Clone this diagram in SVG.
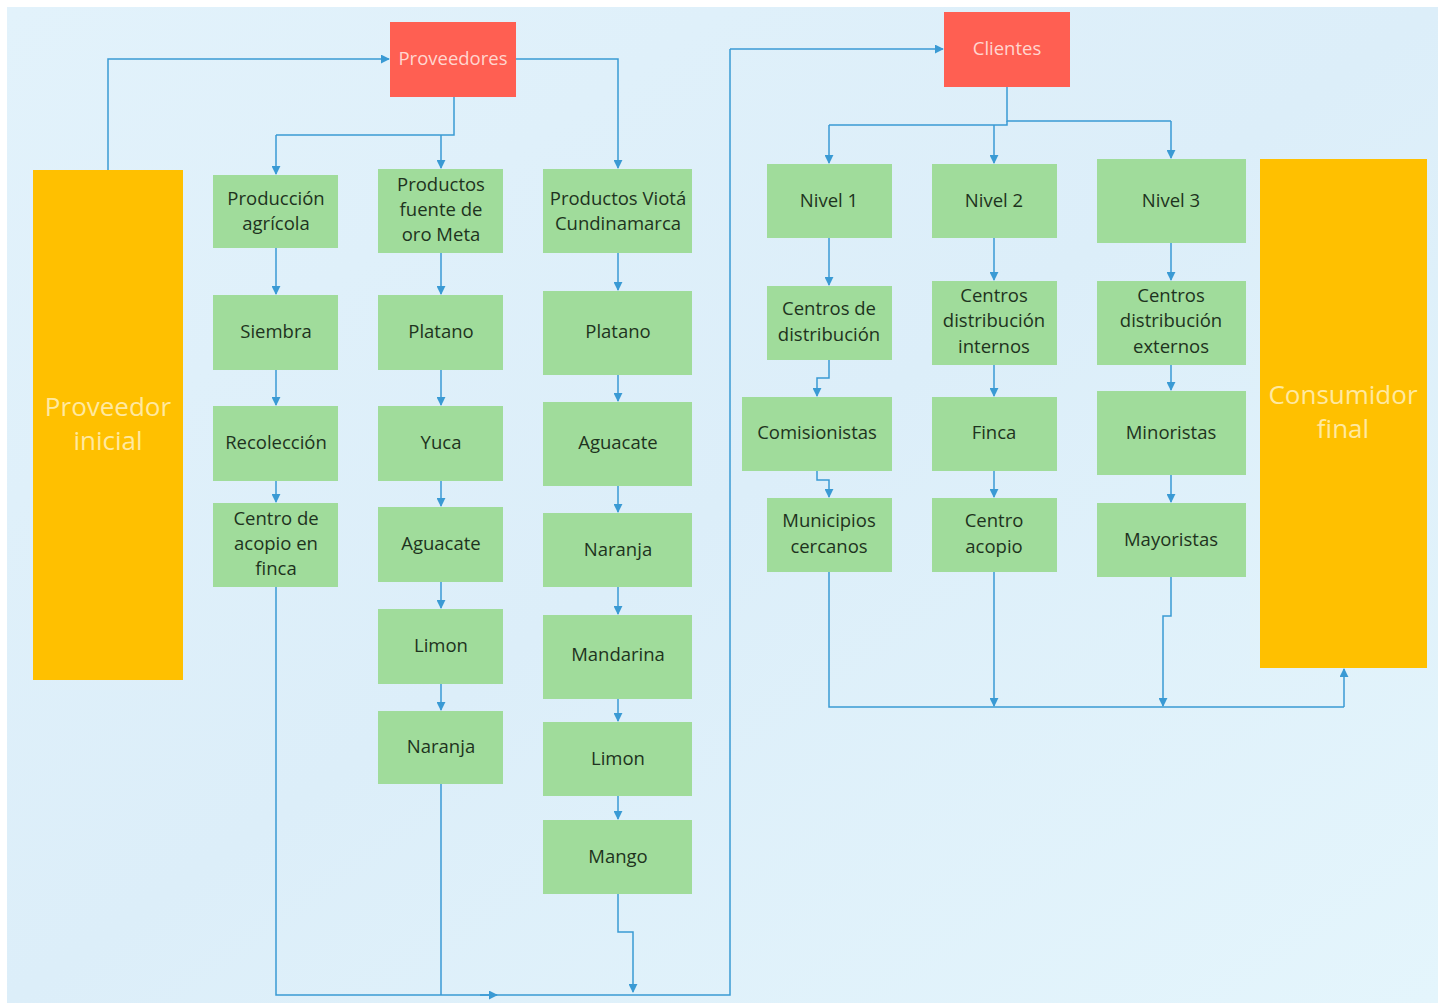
<svg xmlns="http://www.w3.org/2000/svg" width="1443" height="1005" viewBox="0 0 1443 1005">
<defs>
<linearGradient id="bg" x1="0" y1="0" x2="1" y2="1">
<stop offset="0" stop-color="#E2F2FB"/>
<stop offset="0.5" stop-color="#DCEEF9"/>
<stop offset="1" stop-color="#E4F5FC"/>
</linearGradient>
<marker id="ah" viewBox="0 0 10 10" refX="9" refY="5" markerWidth="9" markerHeight="9" markerUnits="userSpaceOnUse" orient="auto">
<path d="M0,0 L10,5 L0,10 z" fill="#3A9AD4"/>
</marker>
<style>
.g rect{fill:#A0DC9B}
.g text{font-family:"Open Sans","Noto Sans",sans-serif;font-size:18.5px;fill:#1E3320;text-anchor:middle}
.r rect{fill:#FF5F52}
.r text{font-family:"Open Sans","Noto Sans",sans-serif;font-size:18.5px;fill:#FFD6CF;text-anchor:middle}
.y rect{fill:#FFC000}
.y text{font-family:"Open Sans","Noto Sans",sans-serif;font-size:26px;fill:#FFE9A0;text-anchor:middle}
.c path{fill:none;stroke:#3A9AD4;stroke-width:1.5}
.c path.a{marker-end:url(#ah)}
</style>
</defs>
<rect x="0" y="0" width="1443" height="1005" fill="#FFFFFF"/>
<rect x="7" y="7" width="1431" height="996" fill="url(#bg)"/>

<g id="connectors" class="c">
<path class="a" d="M108,170 V59 H389"/>
<path d="M454,97 V135 H276"/>
<path class="a" d="M276,135 V174"/>
<path class="a" d="M441,135 V168"/>
<path class="a" d="M516,59 H618 V168"/>
<path class="a" d="M276,248 V294"/>
<path class="a" d="M276,370 V405"/>
<path class="a" d="M276,481 V502"/>
<path class="a" d="M441,253 V294"/>
<path class="a" d="M441,370 V405"/>
<path class="a" d="M441,481 V506"/>
<path class="a" d="M441,582 V608"/>
<path class="a" d="M441,684 V710"/>
<path class="a" d="M618,253 V290"/>
<path class="a" d="M618,375 V401"/>
<path class="a" d="M618,486 V512"/>
<path class="a" d="M618,587 V614"/>
<path class="a" d="M618,699 V721"/>
<path class="a" d="M618,796 V819"/>
<path d="M276,587 V995 H730 V49"/>
<path class="a" d="M730,49 H943"/>
<path d="M441,784 V995"/>
<path class="a" d="M618,894 V932 H633 V992"/>
<path class="a" d="M480,995 H497"/>
<path d="M1007,87 V121 H1171"/>
<path class="a" d="M1171,121 V158"/>
<path d="M1007,121 V125 H829"/>
<path class="a" d="M829,125 V163"/>
<path class="a" d="M994,125 V163"/>
<path class="a" d="M829,238 V285"/>
<path class="a" d="M829,360 V378 H817 V396"/>
<path class="a" d="M817,471 V480 H829 V497"/>
<path class="a" d="M994,238 V280"/>
<path class="a" d="M994,365 V396"/>
<path class="a" d="M994,471 V497"/>
<path class="a" d="M1171,243 V280"/>
<path class="a" d="M1171,365 V390"/>
<path class="a" d="M1171,475 V502"/>
<path d="M829,572 V707 H1344"/>
<path class="a" d="M1344,707 V669"/>
<path class="a" d="M994,572 V706"/>
<path class="a" d="M1171,577 V616 H1163 V706"/>
</g>

<g id="proveedor-inicial" class="y"><rect x="33" y="170" width="150" height="510"/><text x="108" y="416">Proveedor</text><text x="108" y="450">inicial</text></g>
<g id="consumidor-final" class="y"><rect x="1260" y="159" width="167" height="509"/><text x="1343" y="404">Consumidor</text><text x="1343" y="438">final</text></g>
<g id="proveedores" class="r"><rect x="390" y="22" width="126" height="75"/><text x="453" y="65">Proveedores</text></g>
<g id="clientes" class="r"><rect x="944" y="12" width="126" height="75"/><text x="1007" y="55">Clientes</text></g>

<g id="produccion-agricola" class="g"><rect x="213" y="175" width="125" height="73"/><text x="276" y="205">Producción</text><text x="276" y="230">agrícola</text></g>
<g id="siembra" class="g"><rect x="213" y="295" width="125" height="75"/><text x="276" y="338">Siembra</text></g>
<g id="recoleccion" class="g"><rect x="213" y="406" width="125" height="75"/><text x="276" y="449">Recolección</text></g>
<g id="centro-acopio-finca" class="g"><rect x="213" y="503" width="125" height="84"/><text x="276" y="525">Centro de</text><text x="276" y="550">acopio en</text><text x="276" y="575">finca</text></g>

<g id="productos-fuente-oro" class="g"><rect x="378" y="169" width="125" height="84"/><text x="441" y="191">Productos</text><text x="441" y="216">fuente de</text><text x="441" y="241">oro Meta</text></g>
<g id="platano-1" class="g"><rect x="378" y="295" width="125" height="75"/><text x="441" y="338">Platano</text></g>
<g id="yuca" class="g"><rect x="378" y="406" width="125" height="75"/><text x="441" y="449">Yuca</text></g>
<g id="aguacate-1" class="g"><rect x="378" y="507" width="125" height="75"/><text x="441" y="550">Aguacate</text></g>
<g id="limon-1" class="g"><rect x="378" y="609" width="125" height="75"/><text x="441" y="652">Limon</text></g>
<g id="naranja-1" class="g"><rect x="378" y="711" width="125" height="73"/><text x="441" y="753">Naranja</text></g>

<g id="productos-viota" class="g"><rect x="543" y="169" width="149" height="84"/><text x="618" y="205">Productos Viotá</text><text x="618" y="230">Cundinamarca</text></g>
<g id="platano-2" class="g"><rect x="543" y="291" width="149" height="84"/><text x="618" y="338">Platano</text></g>
<g id="aguacate-2" class="g"><rect x="543" y="402" width="149" height="84"/><text x="618" y="449">Aguacate</text></g>
<g id="naranja-2" class="g"><rect x="543" y="513" width="149" height="74"/><text x="618" y="556">Naranja</text></g>
<g id="mandarina" class="g"><rect x="543" y="615" width="149" height="84"/><text x="618" y="661">Mandarina</text></g>
<g id="limon-2" class="g"><rect x="543" y="722" width="149" height="74"/><text x="618" y="765">Limon</text></g>
<g id="mango" class="g"><rect x="543" y="820" width="149" height="74"/><text x="618" y="863">Mango</text></g>

<g id="nivel-1" class="g"><rect x="767" y="164" width="125" height="74"/><text x="829" y="207">Nivel 1</text></g>
<g id="nivel-2" class="g"><rect x="932" y="164" width="125" height="74"/><text x="994" y="207">Nivel 2</text></g>
<g id="nivel-3" class="g"><rect x="1097" y="159" width="149" height="84"/><text x="1171" y="207">Nivel 3</text></g>

<g id="centros-distribucion" class="g"><rect x="767" y="286" width="125" height="74"/><text x="829" y="315">Centros de</text><text x="829" y="341">distribución</text></g>
<g id="centros-internos" class="g"><rect x="932" y="281" width="125" height="84"/><text x="994" y="302">Centros</text><text x="994" y="327">distribución</text><text x="994" y="353">internos</text></g>
<g id="centros-externos" class="g"><rect x="1097" y="281" width="149" height="84"/><text x="1171" y="302">Centros</text><text x="1171" y="327">distribución</text><text x="1171" y="353">externos</text></g>

<g id="comisionistas" class="g"><rect x="742" y="397" width="150" height="74"/><text x="817" y="439">Comisionistas</text></g>
<g id="finca" class="g"><rect x="932" y="397" width="125" height="74"/><text x="994" y="439">Finca</text></g>
<g id="minoristas" class="g"><rect x="1097" y="391" width="149" height="84"/><text x="1171" y="439">Minoristas</text></g>

<g id="municipios-cercanos" class="g"><rect x="767" y="498" width="125" height="74"/><text x="829" y="527">Municipios</text><text x="829" y="553">cercanos</text></g>
<g id="centro-acopio" class="g"><rect x="932" y="498" width="125" height="74"/><text x="994" y="527">Centro</text><text x="994" y="553">acopio</text></g>
<g id="mayoristas" class="g"><rect x="1097" y="503" width="149" height="74"/><text x="1171" y="546">Mayoristas</text></g>
</svg>
